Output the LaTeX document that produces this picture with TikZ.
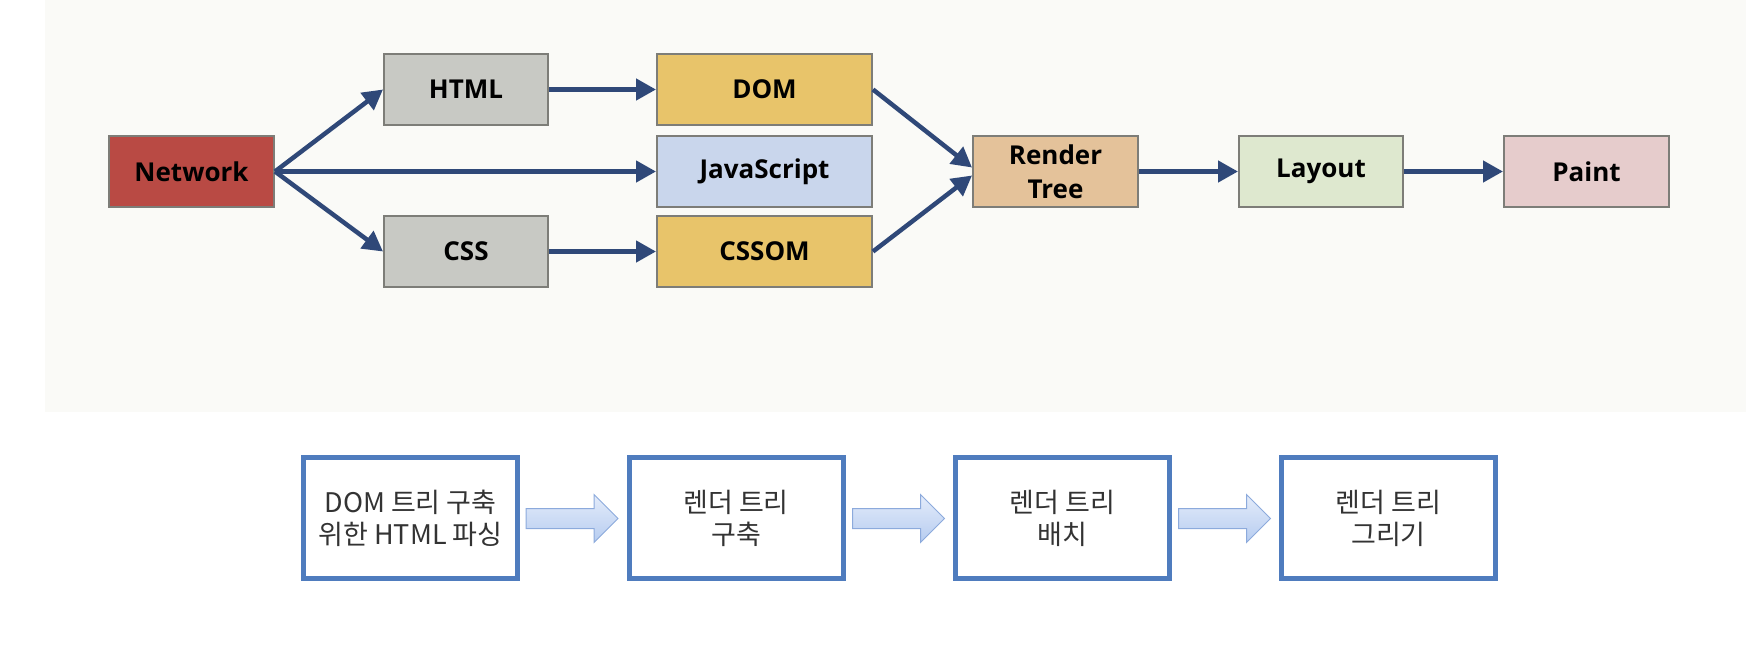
\documentclass[tikz,border=0pt]{standalone}
\usepackage{fontspec}
\setmainfont{Open Sans}
\newfontfamily\krfont{Noto Sans CJK KR}
\usetikzlibrary{arrows.meta,shapes.arrows}
\definecolor{netred}{RGB}{185,74,68}
\definecolor{srcgray}{RGB}{200,201,196}
\definecolor{objgold}{RGB}{232,196,106}
\definecolor{jsblue}{RGB}{201,214,236}
\definecolor{rtan}{RGB}{228,194,154}
\definecolor{laygreen}{RGB}{222,232,207}
\definecolor{paintpink}{RGB}{230,204,204}
\definecolor{edgegray}{RGB}{125,125,120}
\definecolor{navy}{RGB}{47,72,120}
\definecolor{stepblue}{RGB}{79,124,190}
\definecolor{paneloff}{RGB}{250,250,247}

\begin{document}
\begin{tikzpicture}[x=1pt,y=-1pt,
	stage/.style={draw=edgegray,line width=2pt,minimum height=71pt,inner sep=0pt,
		align=center,font=\fontsize{26}{34}\selectfont\bfseries},
	flow/.style={draw=navy,line width=4.5pt,-{Triangle[length=20pt,width=21pt]}},
	phase/.style={draw=stepblue,fill=white,line width=5pt,minimum width=214pt,
		minimum height=121pt,align=center,text=black!80,
		font=\krfont\fontsize{27}{32}\selectfont},
	fatarrow/.style={single arrow,draw={rgb,255:red,140;green,170;blue,220},line width=1pt,
		top color={rgb,255:red,228;green,236;blue,250},bottom color={rgb,255:red,182;green,204;blue,240},
		minimum height=92pt,inner xsep=0pt,inner ysep=9.5pt,single arrow head extend=14pt}]
	\useasboundingbox (0,0) rectangle (1746,670);
	\fill[paneloff] (45,0) rectangle (1746,412);
	
	% pipeline boxes
	\foreach \n/\x/\y/\w/\c/\t in
	{net/191.5/171.5/165/netred/Network, html/466/89.5/164/srcgray/HTML,
		css/466/251.5/164/srcgray/CSS, dom/764.5/89.5/215/objgold/DOM,
		js/764.5/171.5/215/jsblue/JavaScript, cssom/764.5/251.5/215/objgold/CSSOM,
		render/1055.5/171.5/165/rtan/Render\\Tree, layout/1321/171.5/164/laygreen/Layout,
		paint/1586.5/171.5/165/paintpink/Paint}{
		\node[stage,fill=\c,minimum width=\w pt] (\n) at (\x,\y) {\t};
	}
	
	\draw[flow] (net.east) -- (html.west);
	\draw[flow] (net.east) -- (js.west);
	\draw[flow] (net.east) -- (css.west);
	\draw[flow] (dom.east) -- ([yshift=4pt]render.west);
	\draw[flow] (cssom.east) -- ([yshift=-4pt]render.west);
	\foreach \a/\b in
	{html/dom, css/cssom, render/layout, layout/paint}{
		\draw[flow] (\a) -- (\b);
	}
	
	% korean steps
	\foreach \n/\x/\t in
	{s1/410.5/DOM 트리 구축\\위한 HTML 파싱, s2/736/렌더 트리\\구축,
		s3/1062.5/렌더 트리\\배치, s4/1388.5/렌더 트리\\그리기}{
		\node[phase] (\n) at (\x,518) {\t};
	}
	\foreach \n/\x in
	{a1/567, a2/893.5, a3/1219.5}{
		\node[fatarrow] (\n) at (\x,518.5) {};
	}
\end{tikzpicture}
\end{document}
